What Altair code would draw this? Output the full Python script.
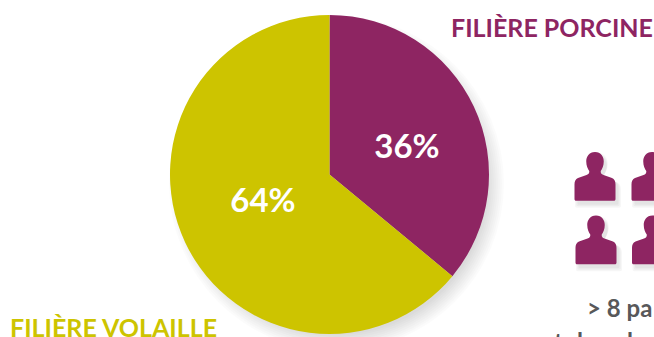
import altair as alt
import pandas as pd

# Share of each production sector
sectors = ["Filière porcine", "Filière volaille"]
shares = [36, 64]
share_labels = ["36%", "64%"]
sector_colors = ["#8e2562", "#cdc400"]
PURPLE, YELLOW = sector_colors
GREY = "#58585a"
FONT = "Lato"

# Pictogram of a person, drawn in symbol units (-1..1)
PERSON = (
    "M0,-0.98 C0.24,-0.98 0.35,-0.78 0.35,-0.60 C0.35,-0.44 0.29,-0.30 0.23,-0.22 "
    "C0.22,-0.14 0.25,-0.10 0.34,-0.06 L0.68,0.06 C0.78,0.10 0.82,0.20 0.82,0.32 "
    "L0.82,0.90 C0.82,0.95 0.80,0.97 0.75,0.97 L-0.75,0.97 C-0.80,0.97 -0.82,0.95 -0.82,0.90 "
    "L-0.82,0.32 C-0.82,0.20 -0.78,0.10 -0.68,0.06 L-0.34,-0.06 C-0.25,-0.10 -0.22,-0.14 -0.23,-0.22 "
    "C-0.29,-0.30 -0.35,-0.44 -0.35,-0.60 C-0.35,-0.78 -0.24,-0.98 0,-0.98 Z"
)
person_cols = [595, 652, 596, 652.5]
person_rows = [176.5, 176.5, 240, 240]

PIE_X, PIE_Y, PIE_R = 329.5, 174.5, 159.5
one = pd.DataFrame({"k": [0]})
pie_data = pd.DataFrame({"sector": sectors, "share": shares, "label": share_labels, "color": sector_colors})


def text(label, x, y, color, size, align="left"):
    return alt.Chart(one).mark_text(
        text=label, font=FONT, fontWeight="bold", fontSize=size, color=color, align=align, baseline="alphabetic"
    ).encode(x=alt.value(x), y=alt.value(y))


# Soft shadow under the pie, built from faint stacked discs
pie_shadow = [
    alt.Chart(one).mark_circle(color="#000000", opacity=0.014).encode(
        x=alt.value(PIE_X + 7), y=alt.value(PIE_Y + 9), size=alt.value((2 * (PIE_R + d)) ** 2)
    )
    for d in range(-8, 10, 2)
]

pie = alt.Chart(pie_data).mark_arc(outerRadius=PIE_R, stroke=None).encode(
    theta=alt.Theta("share:Q", stack=True, scale=alt.Scale(domain=[0, 100], range=[0, 6.283185307])),
    color=alt.Color("color:N", scale=None, legend=None),
    order=alt.Order("sector:N"),
    x=alt.value(PIE_X),
    y=alt.value(PIE_Y),
)

people = []
for px, py in zip(person_cols, person_rows):
    for grow in (56, 53, 50):
        people.append(
            alt.Chart(one).mark_point(shape=PERSON, filled=True, color="#000000", opacity=0.035, strokeWidth=0).encode(
                x=alt.value(px + 3), y=alt.value(py + 4), size=alt.value(grow ** 2)
            )
        )
    people.append(
        alt.Chart(one).mark_point(shape=PERSON, filled=True, color=PURPLE, opacity=1, strokeWidth=0).encode(
            x=alt.value(px), y=alt.value(py), size=alt.value(50 ** 2)
        )
    )

texts = [
    text("FILIÈRE PORCINE", 451, 37, PURPLE, 25),
    text("FILIÈRE VOLAILLE", 10, 337, YELLOW, 25),
    text("36%", 407, 158, "#ffffff", 33, "center"),
    text("64%", 263, 212, "#ffffff", 33, "center"),
    text("> 8 pa", 587, 317, GREY, 24),
    # Tops of the next line, which runs past the lower edge
    text("t", 554, 351, GREY, 24),
    text("l", 577, 351, GREY, 24),
    text("l", 627, 351, GREY, 24),
]

chart = alt.layer(*pie_shadow, pie, *people, *texts).properties(
    width=654, height=337, padding=0, autosize=alt.AutoSizeParams(type="none"), background="#ffffff"
).configure_view(stroke=None)

chart.save("out.html", embed_options={"renderer": "svg", "actions": False})
